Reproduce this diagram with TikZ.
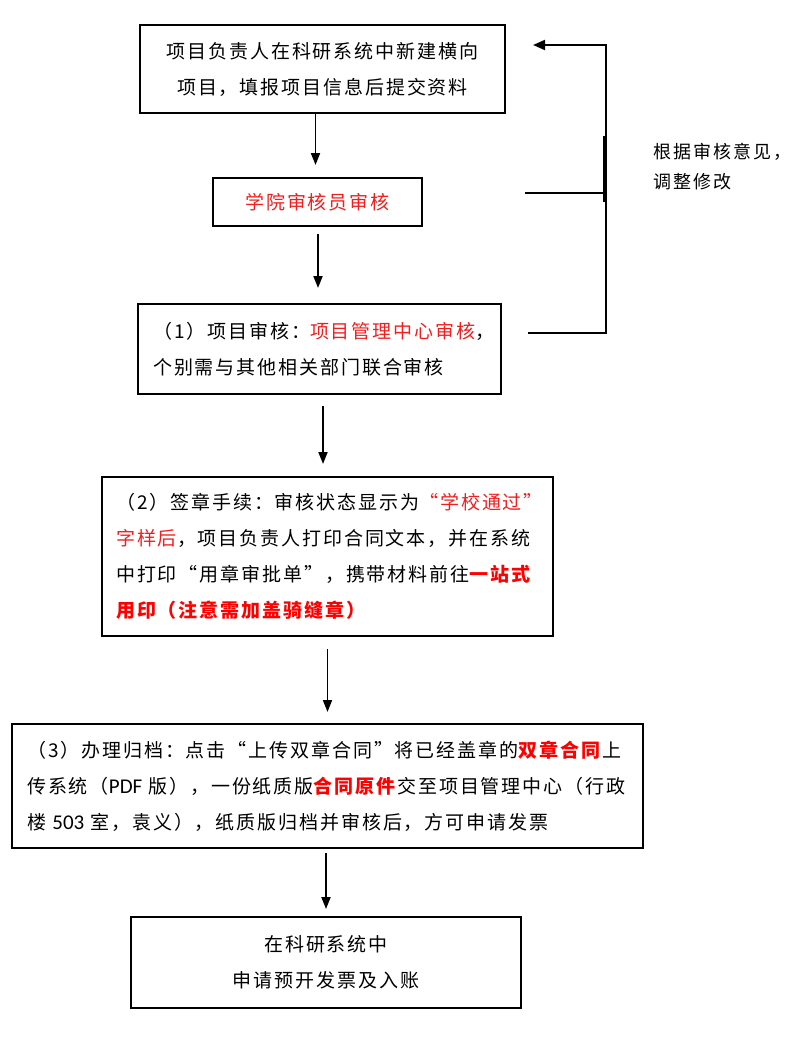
\documentclass[tikz,border=0pt]{standalone}
\usepackage{fontspec}
\setmainfont{Noto Sans CJK SC}[LetterSpace=10]
\newfontfamily\latinf{Carlito}
\usetikzlibrary{arrows.meta}
\definecolor{redtxt}{RGB}{240,30,30}
\definecolor{redbold}{RGB}{255,0,0}
\begin{document}
\begin{tikzpicture}[x=1pt,y=-1pt,
  box/.style={draw=black,line width=2pt,minimum width=#1,inner sep=0pt},
  txt/.style={font=\fontsize{19}{36}\selectfont,inner sep=0pt},
  arr/.style={line width=1.8pt,-{Triangle[length=12pt,width=9pt]}},
  fb/.style={line width=1.8pt}]
\useasboundingbox (0,0) rectangle (794,1041);
% boxes
\node[box=365pt,minimum height=88pt,txt,align=center] (b1) at (322.5,69)
  {项目负责人在科研系统中新建横向\\项目，填报项目信息后提交资料};
\node[box=209pt,minimum height=48pt,txt,text=redtxt] (b2) at (317.5,202)
  {学院审核员审核};
\node[box=363pt,minimum height=90pt] (b3) at (319.5,349) {};
\node[box=451pt,minimum height=159pt] (b4) at (327,556.5) {};
\node[box=631pt,minimum height=124pt] (b5) at (327.5,786) {};
\node[box=390pt,minimum height=91pt,txt,align=center] (b6) at (326,962.5)
  {在科研系统中\\申请预开发票及入账};
% texts of left-aligned boxes
\node[txt,align=left,anchor=west] (t3) at ([xshift=16pt]b3.west)
  {（1）项目审核：\textcolor{redtxt}{项目管理中心审核}，\\个别需与其他相关部门联合审核};
\node[txt,align=left,anchor=west] (t4) at ([xshift=15.5pt]b4.west)
  {（2）签章手续：审核状态显示为\textcolor{redtxt}{“学校通过”}\\
   \textcolor{redtxt}{字样后}，项目负责人打印合同文本，并在系统\\
   中打印“用章审批单”，携带材料前往\textcolor{redbold}{\textbf{一站式}}\\
   \textcolor{redbold}{\textbf{用印（注意需加盖骑缝章）}}};
\node[txt,align=left,anchor=west] (t5) at ([xshift=16pt]b5.west)
  {（3）办理归档：点击“上传双章合同”将已经盖章的\textcolor{redbold}{\textbf{双章合同}}上\\
   传系统（{\latinf\fontsize{21}{36}\selectfont PDF} 版），一份纸质版\textcolor{redbold}{\textbf{合同原件}}交至项目管理中心（行政\\
   楼 {\latinf\fontsize{21}{36}\selectfont 503} 室，袁义），纸质版归档并审核后，方可申请发票};
% main arrows
\draw[arr] ([xshift=-7pt]b1.south) -- ([xshift=-2pt,yshift=12pt]b2.north);
\draw[arr] ([xshift=0.5pt,yshift=-7pt]b2.south) -- ([xshift=-1.5pt,yshift=15pt]b3.north);
\draw[arr] ([xshift=3.5pt,yshift=-11pt]b3.south) -- ([xshift=-4pt,yshift=12pt]b4.north);
\draw[arr] ([xshift=0.5pt,yshift=-12pt]b4.south) -- ([yshift=11pt]b5.north);
\draw[arr] ([xshift=-1.5pt,yshift=-4pt]b5.south) -- ([yshift=7pt]b6.north);
% feedback loop
\coordinate (f3) at ([xshift=26pt,yshift=16pt]b3.east);
\coordinate (fr3) at (606,333);
\coordinate (fr1) at (606,45);
\coordinate (ftip) at ([xshift=27pt,yshift=24pt]b1.east);
\coordinate (f2) at ([xshift=102pt,yshift=9pt]b2.east);
\coordinate (fr2) at (606,193);
\draw[fb,-{Triangle[length=12pt,width=10pt]}] (f3) -- (fr3) -- (fr1) -- (ftip);
\draw[fb] (f2) -- (fr2);
\draw[line width=3.5pt] (605,136) -- (605,202);
\node[font=\fontsize{18}{30}\selectfont\addfontfeature{LetterSpace=11},align=left,anchor=north west,inner sep=0pt] (lbl) at (653,143)
  {根据审核意见，\\调整修改};
\end{tikzpicture}
\end{document}
